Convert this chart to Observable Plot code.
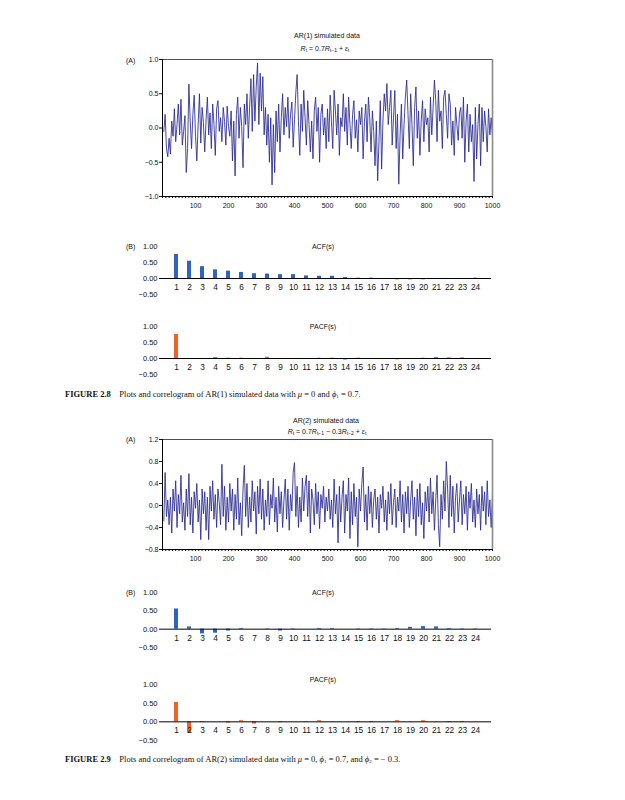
<!DOCTYPE html>
<html><head><meta charset="utf-8">
<script src="https://cdn.jsdelivr.net/npm/d3@7"></script>
<script src="https://cdn.jsdelivr.net/npm/@observablehq/plot@0.6"></script>
<style>
body{margin:0;background:#fff;}
#page{position:relative;width:625px;height:800px;font-family:"Liberation Sans",Arial,sans-serif;color:#111;overflow:hidden;}
.abs{position:absolute;white-space:nowrap;line-height:1;}
.c{transform:translate(-50%,-50%);}
.l{transform:translate(0,-50%);}
.t{font-size:7px;}
.cap{font-family:"Liberation Serif","Times New Roman",serif;font-size:8.5px;}
sub{font-size:5px;vertical-align:-1.5px;line-height:0;}
#page svg{position:absolute;overflow:visible;}
</style></head><body><div id="page"></div>
<script>
// AR(1) simulated series (sampled every 4 time steps)
const ar1Values = [
-0.05,0.20,-0.30,-0.42,-0.15,-0.38,0.10,-0.12,0.28,-0.20,0.05,0.35,-0.10,0.42,-0.25,-0.05,0.18,-0.65,-0.30,0.64,0.10,-0.30,0.20,0.48,-0.12,
-0.48,0.05,0.50,-0.22,0.30,0.08,-0.35,0.12,0.45,-0.10,0.22,-0.30,0.35,0.05,-0.40,0.28,0.40,-0.05,0.15,-0.20,0.30,0.10,-0.25,0.32,0.02,
-0.12,0.25,-0.48,0.10,-0.70,0.20,0.45,-0.15,0.30,0.02,-0.58,0.35,0.05,0.50,-0.15,0.30,0.72,-0.05,0.78,0.10,0.60,0.95,0.05,0.80,0.25,
0.75,-0.10,0.30,-0.25,0.20,-0.50,0.15,-0.83,0.05,-0.65,0.25,-0.20,0.35,-0.35,0.15,0.50,-0.10,0.30,0.02,0.45,-0.15,0.20,0.38,-0.28,0.12,
0.52,0.78,0.10,-0.40,0.35,-0.05,0.55,0.15,-0.25,0.40,0.05,-0.35,0.10,-0.45,0.25,0.45,-0.05,0.30,-0.50,0.20,0.35,-0.10,0.15,-0.30,0.28,
-0.20,0.48,0.10,-0.30,0.55,0.25,-0.10,0.35,-0.40,0.15,0.02,0.50,-0.05,0.30,-0.25,0.45,0.05,-0.30,0.20,0.40,-0.15,0.12,-0.35,0.25,0.05,
0.30,-0.45,0.10,0.35,-0.20,0.45,0.15,-0.35,0.25,-0.05,-0.55,0.10,-0.77,-0.20,0.40,-0.60,0.10,0.50,0.25,0.65,0.05,0.30,0.55,-0.25,0.15,
0.55,-0.30,0.20,-0.82,-0.10,0.35,-0.45,0.05,0.45,0.70,0.20,-0.30,0.50,0.05,-0.55,0.30,0.60,-0.15,0.25,-0.40,0.10,0.40,-0.20,0.28,0.05,
0.15,-0.35,0.45,-0.10,0.30,0.70,0.40,-0.20,0.55,0.10,0.25,-0.30,0.45,0.55,0.20,-0.15,0.50,0.35,-0.25,0.10,-0.40,0.30,0.05,-0.18,0.22,
0.30,-0.15,0.45,-0.50,0.10,0.35,-0.35,0.20,-0.20,0.05,-0.78,0.30,-0.45,0.05,0.35,-0.55,0.30,-0.20,0.25,0.02,-0.35,0.28,-0.10,0.15,-0.12
];
// AR(2) simulated series (sampled every 4 time steps)
const ar2Values = [
-0.28,0.60,-0.20,0.10,-0.35,0.15,-0.50,0.30,-0.10,0.45,-0.40,0.20,-0.15,0.55,-0.30,0.05,-0.45,0.30,-0.20,0.58,-0.35,0.15,-0.50,0.25,-0.05,
0.40,-0.30,0.10,-0.62,0.30,-0.15,0.25,-0.45,0.15,-0.62,0.35,-0.10,0.45,-0.25,0.20,-0.40,0.30,0.05,-0.35,0.75,-0.20,0.35,-0.45,0.15,-0.30,
0.40,-0.10,0.30,-0.45,0.20,-0.25,0.50,-0.35,0.05,-0.55,0.30,0.73,-0.20,0.40,-0.40,0.15,-0.30,0.45,-0.10,0.25,-0.52,0.35,-0.15,0.48,-0.25,
0.30,-0.45,0.10,-0.20,0.45,-0.35,0.20,-0.05,0.50,-0.30,0.15,-0.48,0.35,-0.15,0.25,-0.40,0.10,0.48,-0.25,0.30,-0.45,0.20,-0.10,0.60,0.78,
-0.20,0.35,-0.40,0.15,-0.30,0.50,-0.10,0.35,0.55,-0.20,0.45,-0.50,0.30,0.10,-0.35,0.40,-0.15,0.25,-0.42,0.20,-0.05,0.35,-0.30,0.15,-0.10,
0.30,-0.25,0.10,-0.40,0.48,-0.15,0.20,-0.68,0.35,-0.30,0.15,0.45,-0.50,0.20,-0.10,0.50,-0.60,0.25,-0.35,0.40,-0.20,0.15,-0.75,0.30,-0.10,
0.40,0.70,-0.30,0.20,-0.45,0.35,-0.15,0.25,-0.40,0.10,0.30,-0.25,0.15,-0.50,0.20,-0.05,0.35,-0.30,0.10,-0.45,0.25,-0.15,0.40,-0.35,0.05,
0.30,-0.40,0.15,-0.10,0.45,-0.30,0.20,-0.50,0.25,-0.15,0.35,-0.40,0.10,0.45,-0.25,0.15,-0.55,0.30,-0.20,0.40,-0.35,0.05,-0.60,0.25,-0.10,
0.35,-0.30,0.50,-0.15,0.25,-0.45,0.10,0.55,-0.35,-0.75,0.20,-0.25,0.45,-0.10,0.80,0.30,-0.40,0.55,-0.20,0.35,-0.50,0.15,0.40,-0.30,0.10,
0.45,-0.35,0.20,-0.15,0.35,-0.45,0.25,-0.05,0.40,-0.30,0.10,-0.40,0.30,-0.15,0.20,-0.45,0.35,-0.10,0.25,-0.35,0.45,-0.20,0.10,-0.40,0.20
];
const sampleStep = 4;
const lags = [1,2,3,4,5,6,7,8,9,10,11,12,13,14,15,16,17,18,19,20,21,22,23,24];
const acf1  = [0.75,0.54,0.37,0.27,0.23,0.19,0.15,0.14,0.12,0.12,0.08,0.07,0.07,0.03,0.01,0.01,-0.02,-0.04,-0.04,-0.04,-0.03,-0.02,0.00,0.01];
const pacf1 = [0.75,-0.02,0.00,0.03,0.01,0.01,0.00,0.04,0.00,0.00,0.00,0.01,0.01,-0.05,0.01,0.00,-0.02,-0.04,0.00,0.01,0.03,0.02,0.02,0.00];
const acf2  = [0.55,0.06,-0.13,-0.11,-0.05,0.02,0.00,-0.01,-0.05,-0.01,0.00,0.02,0.02,0.00,-0.01,-0.01,-0.01,0.02,0.05,0.07,0.06,0.02,-0.01,-0.01];
const pacf2 = [0.52,-0.30,-0.02,0.00,-0.03,0.03,-0.06,0.00,-0.02,0.00,-0.01,0.03,-0.01,0.00,-0.02,-0.02,0.00,0.03,0.01,0.03,0.01,-0.02,-0.02,0.00];
const timeTicks = [100,200,300,400,500,600,700,800,900,1000];
const ar1YTicks = [-1,-0.5,0,0.5,1];
const ar2YTicks = [-0.8,-0.4,0,0.4,0.8,1.2];
const corrTicks = [-0.5,0,0.5,1];

const page = document.getElementById("page");
const FONT = "Liberation Sans, Arial, sans-serif";
const minorTicks = d3.range(0, 1001, 10);

function linePlot(values, yDomain, yTicks, frameTop, frameBottom, labelPad) {
  const data = values.map((v, i) => ({t: (i + 1) * sampleStep, v}));
  const mt = 6, mb = 22;
  const p = Plot.plot({
    width: 625, height: frameBottom - frameTop + mt + mb,
    marginLeft: 162, marginRight: 133, marginTop: mt, marginBottom: mb,
    style: {fontSize: "7px", fontFamily: FONT, color: "#111", background: "transparent"},
    x: {domain: [0, 1000], label: null},
    y: {domain: yDomain, label: null},
    marks: [
      Plot.lineY(data, {x: "t", y: "v", stroke: "#28288f", strokeWidth: 0.85}),
      Plot.ruleY([yDomain[1]], {stroke: "#222", strokeWidth: 0.8}),
      Plot.ruleX([1000], {stroke: "#8a8a8a", strokeWidth: 1.6}),
      Plot.ruleX([0], {stroke: "#000", strokeWidth: 1}),
      Plot.ruleY([yDomain[0]], {stroke: "#000", strokeWidth: 1}),
      Plot.axisX(minorTicks, {tickSize: 2, tickFormat: () => "", label: null, stroke: "#000"}),
      Plot.axisX(timeTicks, {tickSize: 2, tickPadding: labelPad, tickFormat: "d", label: null, fontSize: 7}),
      Plot.axisY(yTicks, {tickSize: 3, tickPadding: 1, tickFormat: ".1f", label: null, fontSize: 7})
    ]
  });
  p.style.left = "0px";
  p.style.top = (frameTop - mt) + "px";
  page.append(p);
}

function corrPlot(values, color, frameTop, frameBottom, labelDy) {
  const data = lags.map((l, i) => ({lag: l, v: values[i]}));
  const mt = 4, mb = 4;
  const p = Plot.plot({
    width: 625, height: frameBottom - frameTop + mt + mb,
    marginLeft: 159, marginRight: 134, marginTop: mt, marginBottom: mb,
    style: {fontSize: "7.5px", fontFamily: FONT, color: "#111", background: "transparent"},
    x: {type: "band", domain: lags, paddingInner: 0.7, paddingOuter: 0.35, axis: null, label: null},
    y: {domain: [-0.5, 1], label: null},
    marks: [
      Plot.barY(data, {x: "lag", y: "v", fill: color}),
      Plot.ruleY([0], {stroke: "#000", strokeWidth: 1}),
      Plot.axisY(corrTicks, {tickSize: 0, tickPadding: 2, tickFormat: ".2f", label: null, fontSize: 7.5}),
      Plot.text(data, {x: "lag", y: () => 0, dy: labelDy, text: "lag", fontSize: 8.3, fill: "#111"})
    ]
  });
  p.style.left = "0px";
  p.style.top = (frameTop - mt) + "px";
  page.append(p);
}

function label(html, x, y, cls) {
  const d = document.createElement("div");
  d.className = "abs " + cls;
  d.style.left = x + "px";
  d.style.top = y + "px";
  d.innerHTML = html;
  page.append(d);
}

const BLUE = "#2f63c2", ORANGE = "#ee6427";

// Figure 2.8
label("AR(1) simulated data", 327, 35, "t c");
label("<i>R</i><sub>t</sub> = 0.7<i>R</i><sub>t−1</sub> + <i>ε</i><sub>t</sub>", 325, 47.5, "t c");
label("(A)", 126, 60, "t l");
linePlot(ar1Values, [-1, 1], ar1YTicks, 59, 196, 5);
label("(B)", 126, 246, "t l");
label("ACF(s)", 323, 246, "t c");
corrPlot(acf1, BLUE, 246, 294, 9);
label("PACF(s)", 323, 326, "t c");
corrPlot(pacf1, ORANGE, 326, 374, 9);
label("<b>FIGURE 2.8</b>&nbsp;&nbsp;&nbsp; Plots and correlogram of AR(1) simulated data with <i>μ</i> = 0 and <i>ϕ</i><sub>1</sub> = 0.7.", 65, 394, "cap l");

// Figure 2.9
label("AR(2) simulated data", 326, 420, "t c");
label("<i>R</i><sub>t</sub> = 0.7<i>R</i><sub>t−1</sub> − 0.3<i>R</i><sub>t−2</sub> + <i>ε</i><sub>t</sub>", 327, 430.5, "t c");
label("(A)", 126, 439, "t l");
linePlot(ar2Values, [-0.8, 1.2], ar2YTicks, 439, 549, 4.5);
label("(B)", 126, 592, "t l");
label("ACF(s)", 323, 592, "t c");
corrPlot(acf2, BLUE, 592, 647, 9);
label("PACF(s)", 323, 679, "t c");
corrPlot(pacf2, ORANGE, 684, 740, 8.5);
label("<b>FIGURE 2.9</b>&nbsp;&nbsp;&nbsp; Plots and correlogram of AR(2) simulated data with <i>μ</i> = 0, <i>ϕ</i><sub>1</sub> = 0.7, and <i>ϕ</i><sub>2</sub> = − 0.3.", 65, 759, "cap l");
</script>
</body></html>
